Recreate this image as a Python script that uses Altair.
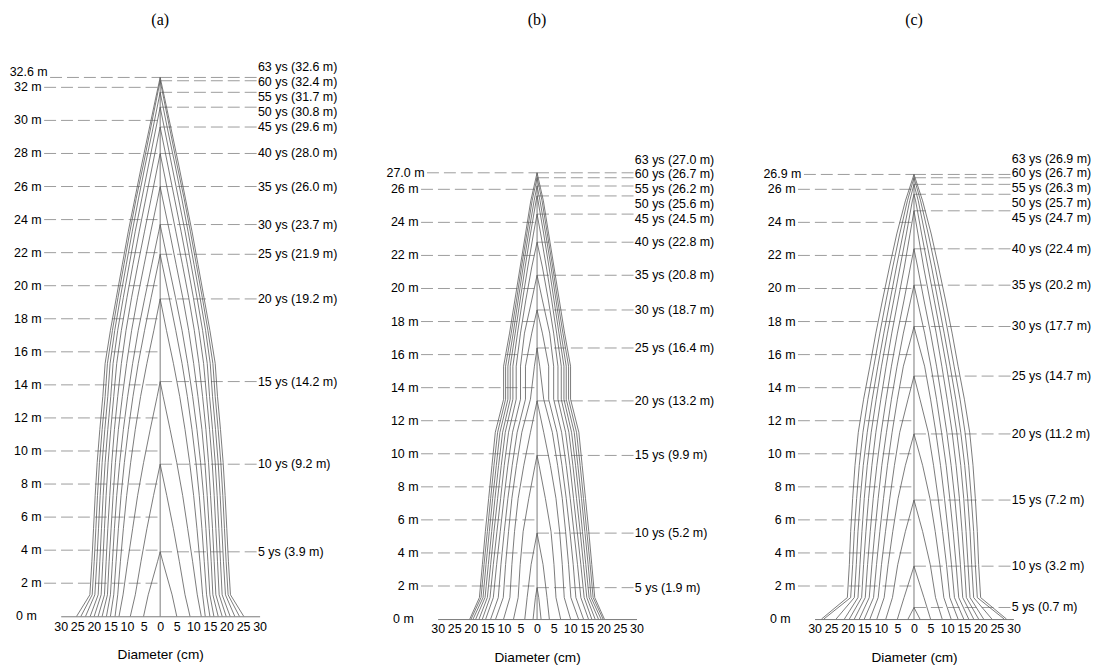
import altair as alt
import pandas as pd

AGES = [5, 10, 15, 20, 25, 30, 35, 40, 45, 50, 55, 60, 63]
SECTIONS = [0, 1.3, 3.3, 5.3, 7.3, 9.3, 11.3, 13.3, 15.3, 17.3, 19.3, 21.3, 23.3, 25.3, 27.3, 29.3, 31.3]
TITLES = ["(a)", "(b)", "(c)"]

# ---- panel (a)
TIP_A = [3.9, 9.2, 14.2, 19.2, 21.9, 23.7, 26.0, 28.0, 29.6, 30.8, 31.7, 32.4, 32.6]
DIAM_A = [
    [5.0, 3.6, 0.8],
    [9.0, 7.5, 5.8, 4.0, 2.0],
    [12.4, 11.2, 9.8, 8.3, 6.8, 5.0, 3.0, 0.9],
    [13.6, 12.8, 12.0, 11.1, 10.1, 8.9, 7.5, 5.9, 4.0, 1.9],
    [15.0, 14.0, 13.3, 12.6, 11.8, 10.8, 9.6, 8.2, 6.6, 4.7, 2.7, 0.6],
    [16.2, 15.0, 14.4, 13.8, 13.1, 12.2, 11.1, 9.8, 8.3, 6.6, 4.6, 2.5, 0.4],
    [17.5, 15.9, 15.4, 14.8, 14.2, 13.5, 12.6, 11.4, 10.1, 8.6, 6.8, 4.8, 2.8, 0.7],
    [18.7, 16.8, 16.3, 15.8, 15.2, 14.6, 13.8, 12.8, 11.7, 10.3, 8.6, 6.7, 4.7, 2.7, 0.7],
    [19.9, 17.8, 17.3, 16.8, 16.3, 15.7, 14.9, 14.0, 13.1, 11.7, 10.0, 8.2, 6.3, 4.3, 2.3, 0.3],
    [21.1, 18.7, 18.2, 17.7, 17.2, 16.6, 15.8, 14.9, 14.2, 12.8, 11.1, 9.3, 7.5, 5.5, 3.5, 1.5],
    [22.5, 19.7, 19.1, 18.6, 18.1, 17.5, 16.7, 15.8, 15.1, 13.7, 12.0, 10.2, 8.4, 6.5, 4.5, 2.4, 0.4],
    [23.9, 20.5, 19.9, 19.4, 18.9, 18.3, 17.5, 16.6, 15.9, 14.4, 12.7, 10.9, 9.1, 7.2, 5.1, 3.1, 1.1],
    [25.2, 21.2, 20.6, 20.1, 19.6, 19.0, 18.2, 17.3, 16.6, 15.0, 13.2, 11.4, 9.6, 7.6, 5.6, 3.5, 1.4],
]
LEFT_A = [0, 2, 4, 6, 8, 10, 12, 14, 16, 18, 20, 22, 24, 26, 28, 30, 32, 32.6]

# ---- panel (b)
TIP_B = [1.9, 5.2, 9.9, 13.2, 16.4, 18.7, 20.8, 22.8, 24.5, 25.6, 26.2, 26.7, 27.0]
DIAM_B = [
    [1.2, 0.5],
    [3.7, 3.0, 1.8],
    [7.1, 5.7, 5.1, 4.2, 2.5, 0.6],
    [10.1, 8.2, 7.6, 6.8, 5.7, 4.0, 2.0],
    [12.5, 10.2, 9.5, 8.6, 7.6, 6.2, 4.6, 2.0, 0.8],
    [14.0, 11.7, 10.9, 9.9, 8.8, 7.5, 6.0, 3.5, 3.5, 1.6],
    [15.5, 13.2, 12.2, 11.1, 10.0, 8.8, 7.4, 5.0, 5.0, 3.8, 1.6],
    [16.5, 14.2, 13.2, 12.1, 11.0, 9.9, 8.6, 6.3, 6.3, 5.0, 3.4, 1.6],
    [17.5, 15.0, 14.0, 13.0, 11.9, 10.8, 9.6, 7.3, 7.3, 5.9, 4.4, 2.8, 1.1],
    [18.5, 15.7, 14.7, 13.7, 12.7, 11.6, 10.4, 8.1, 8.1, 6.6, 5.1, 3.6, 2.0, 0.3],
    [19.3, 16.3, 15.4, 14.4, 13.4, 12.3, 11.2, 8.8, 8.8, 7.2, 5.7, 4.2, 2.6, 0.9],
    [19.9, 16.9, 16.0, 15.0, 14.0, 13.0, 11.9, 9.5, 9.5, 7.8, 6.2, 4.7, 3.1, 1.5],
    [20.3, 17.4, 16.5, 15.6, 14.6, 13.6, 12.6, 10.1, 10.1, 8.3, 6.7, 5.1, 3.5, 1.9],
]
LEFT_B = [0, 2, 4, 6, 8, 10, 12, 14, 16, 18, 20, 22, 24, 26, 27.0]

# ---- panel (c)
TIP_C = [0.7, 3.2, 7.2, 11.2, 14.7, 17.7, 20.2, 22.4, 24.7, 25.7, 26.3, 26.7, 26.9]
DIAM_C = [
    [1.8],
    [5.0, 3.0],
    [8.5, 6.5, 4.9, 2.6],
    [11.2, 9.0, 7.8, 6.4, 4.8, 2.6],
    [13.3, 10.8, 9.8, 8.6, 7.3, 5.9, 4.3, 1.8],
    [15.0, 12.2, 11.3, 10.3, 9.2, 8.0, 6.6, 5.0, 3.2, 0.5],
    [16.5, 13.5, 12.7, 11.8, 10.8, 9.7, 8.3, 6.8, 5.1, 3.2, 1.0],
    [18.0, 14.7, 14.0, 13.2, 12.3, 11.2, 9.9, 8.4, 6.8, 5.0, 3.0, 1.1],
    [19.5, 15.8, 15.2, 14.5, 13.7, 12.7, 11.5, 10.0, 8.4, 6.7, 4.8, 2.9, 1.2],
    [21.0, 16.9, 16.3, 15.7, 15.0, 14.1, 12.9, 11.4, 9.8, 8.0, 6.1, 4.2, 2.3, 0.5],
    [23.5, 18.0, 17.4, 16.9, 16.2, 15.3, 14.1, 12.6, 10.9, 9.1, 7.2, 5.3, 3.3, 1.3],
    [27.2, 19.1, 18.5, 18.0, 17.3, 16.5, 15.4, 13.9, 12.1, 10.3, 8.4, 6.4, 4.3, 2.0],
    [27.9, 20.1, 19.5, 19.1, 18.5, 17.8, 16.8, 15.2, 13.3, 11.5, 9.5, 7.4, 5.2, 2.6],
]
LEFT_C = [0, 2, 4, 6, 8, 10, 12, 14, 16, 18, 20, 22, 24, 26, 26.9]

PX_PER_M = 16.62
PANEL_W = 200
FULL_TOP = 32.6          # metres spanned by the tallest panel
FONT = "Liberation Sans"
LINE_C = "#5a5a5a"
DASH_C = "#9c9c9c"


def spread(vals, gap, iters=400):
    idx = sorted(range(len(vals)), key=lambda i: vals[i])
    pos = [vals[i] for i in idx]
    for _ in range(iters):
        for k in range(len(pos) - 1):
            d = pos[k + 1] - pos[k]
            if d < gap - 1e-9:
                s = (gap - d) / 2
                pos[k] -= s
                pos[k + 1] += s
    out = [0.0] * len(vals)
    for k, i in enumerate(idx):
        out[i] = pos[k]
    return out


def stack_up(vals, gap):
    out = []
    prev = None
    for v in sorted(vals):
        y = v if prev is None or v - prev >= gap else prev + gap
        out.append(y)
        prev = y
    return out


def profiles(tips, diams):
    rows = []
    for age, tip, d in zip(AGES, tips, diams):
        pts = list(zip(SECTIONS[:len(d)], d))
        seq = [(-v, h) for h, v in pts] + [(0.0, tip)] + [(v, h) for h, v in reversed(pts)]
        for i, (x, y) in enumerate(seq):
            rows.append({"age": age, "o": i, "x": x, "y": y})
    return pd.DataFrame(rows)


def panel(title, tips, diams, left_vals, extra_px):
    ymax = FULL_TOP + extra_px / PX_PER_M
    height = ymax * PX_PER_M
    xenc = alt.X(
        "x:Q",
        scale=alt.Scale(domain=[-30, 30], nice=False, zero=False),
        axis=alt.Axis(
            values=list(range(-30, 31, 5)),
            labelExpr="abs(datum.value)",
            title="Diameter (cm)",
            grid=False,
            ticks=False,
            tickSize=0,
            domainColor="#7a7a7a",
            domainWidth=1,
            labelFont=FONT,
            labelFontSize=12.5,
            labelColor="black",
            labelPadding=4,
            labelOverlap=False,
            labelFlush=False,
            titleFont=FONT,
            titleFontSize=13.7,
            titleFontWeight="normal",
            titleColor="black",
            titlePadding=15,
        ),
    )
    yenc = alt.Y("y:Q", scale=alt.Scale(domain=[0, ymax], nice=False, zero=False), axis=None)

    prof = profiles(tips, diams)
    top = max(tips)

    lv = sorted(left_vals)
    ly = stack_up(lv, 0.9)
    ldash, ltext = [], []
    for v, yl in zip(lv, ly):
        is_top = v == lv[-1]
        xs = -33.2 if is_top else -35.0
        if v > 0:
            ldash.append({"x": xs, "x2": 0.0, "y": v})
        lab = f"{v:.1f} m" if is_top else f"{int(v)} m"
        xl = xs - 0.75 if v > 0 else xs - 2.2
        ltext.append({"x": xl, "y": yl, "t": lab})
    ldash = pd.DataFrame(ldash)
    ltext = pd.DataFrame(ltext)

    ry = spread(tips, 0.9)
    rdash = pd.DataFrame({"x": [0.0] * len(tips), "x2": [29.2] * len(tips), "y": tips})
    rtext = pd.DataFrame({
        "x": [29.5] * len(tips),
        "y": ry,
        "t": [f"{a} ys ({h:.1f} m)" for a, h in zip(AGES, tips)],
    })
    pith = pd.DataFrame({"x": [0.0], "y": [0.0], "y2": [top]})
    ttl = pd.DataFrame({"t": [title]})

    dash_l = alt.Chart(ldash).mark_rule(color=DASH_C, strokeWidth=1, strokeDash=[12, 5]).encode(
        x=xenc, x2="x2:Q", y=yenc)
    dash_r = alt.Chart(rdash).mark_rule(color=DASH_C, strokeWidth=1, strokeDash=[12, 5]).encode(
        x=xenc, x2="x2:Q", y=yenc)
    pith_l = alt.Chart(pith).mark_rule(color=LINE_C, strokeWidth=0.8).encode(
        x=xenc, y=yenc, y2="y2:Q")
    lines = alt.Chart(prof).mark_line(color=LINE_C, strokeWidth=0.8).encode(
        x=xenc, y=yenc, detail="age:N", order="o:Q")
    tl = alt.Chart(ltext).mark_text(align="right", baseline="middle", font=FONT,
                                    fontSize=12.5, color="black").encode(x=xenc, y=yenc, text="t:N")
    tr = alt.Chart(rtext).mark_text(align="left", baseline="middle", font=FONT,
                                    fontSize=12.5, color="black").encode(x=xenc, y=yenc, text="t:N")
    tt = alt.Chart(ttl).mark_text(align="center", baseline="middle", font="Liberation Serif",
                                  fontSize=16, color="black").encode(
        x=alt.value(PANEL_W / 2), y=alt.value(-58), text="t:N")
    return alt.layer(dash_l, dash_r, pith_l, lines, tl, tr, tt).properties(
        width=PANEL_W, height=height)


pa = panel(TITLES[0], TIP_A, DIAM_A, LEFT_A, 0.0)
pb = panel(TITLES[1], TIP_B, DIAM_B, LEFT_B, 2.8)
pc = panel(TITLES[2], TIP_C, DIAM_C, LEFT_C, 2.8)

chart = alt.hconcat(pa, pb, pc, spacing=179, bounds="flush").properties(
    padding={"left": 1, "top": 2, "right": 2, "bottom": 2}
).configure_view(stroke=None)

chart.save("out.html", embed_options={"renderer": "svg", "actions": False})
